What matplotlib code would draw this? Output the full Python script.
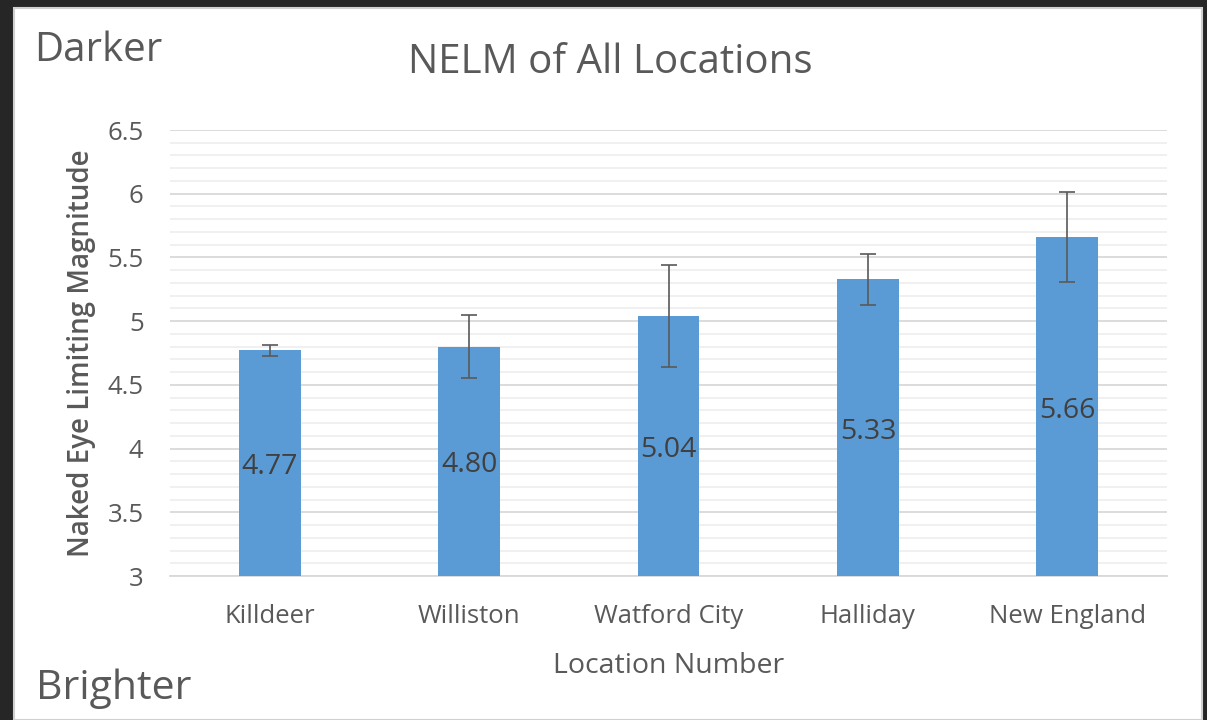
import numpy as np
import matplotlib
matplotlib.use("Agg")
import matplotlib.pyplot as plt
from matplotlib.patches import Rectangle
from matplotlib.ticker import MultipleLocator

locations = ["Killdeer", "Williston", "Watford City", "Halliday", "New England"]
nelm = [4.77, 4.80, 5.04, 5.33, 5.66]
nelm_err = [0.04, 0.245, 0.40, 0.20, 0.35]
value_labels = ["4.77", "4.80", "5.04", "5.33", "5.66"]

plt.rcParams['font.family'] = ['Open Sans', 'DejaVu Sans']

fig = plt.figure(figsize=(12.07, 7.2), dpi=100)
fig.patch.set_facecolor("#262626")

# white slide panel
panel = Rectangle((14 / 1207, 0), (1202 - 14) / 1207, (720 - 8) / 720,
                  transform=fig.transFigure, facecolor="white",
                  edgecolor="#d0d0d0", linewidth=1.5, zorder=-10)
fig.patches.append(panel)

ax = fig.add_axes([170 / 1207, 144 / 720, (1167 - 170) / 1207, (576 - 130) / 720])
ax.set_facecolor("none")
ax.set_zorder(2)

x = np.arange(len(locations))
ax.bar(x, [v - 3 for v in nelm], bottom=3, width=0.31, color="#5b9bd5", zorder=3)
ax.errorbar(x, nelm, yerr=nelm_err, fmt="none", ecolor="#595959",
            elinewidth=1.2, capsize=6, capthick=1.2, zorder=4)

for xi, v, lab in zip(x, nelm, value_labels):
    ax.annotate(lab, (xi, (3 + v) / 2), xytext=(0, -3), textcoords="offset points",
                ha="center", va="center", fontsize=20.5, color="#404040", zorder=5)

ax.set_xlim(-0.5, len(locations) - 0.5)
ax.set_ylim(3, 6.5)
ax.yaxis.set_major_locator(MultipleLocator(0.5))
ax.yaxis.set_minor_locator(MultipleLocator(0.1))
ax.set_yticks([3, 3.5, 4, 4.5, 5, 5.5, 6, 6.5])
ax.set_yticklabels(["3", "3.5", "4", "4.5", "5", "5.5", "6", "6.5"])
ax.grid(axis="y", which="major", color="#d9d9d9", linewidth=1.3, zorder=0)
ax.grid(axis="y", which="minor", color="#efefef", linewidth=1.3, zorder=0)
ax.set_axisbelow(True)
ax.set_xticks(x)
ax.set_xticklabels(locations)
ax.tick_params(axis="both", which="both", length=0, labelsize=18.5, colors="#595959")
ax.tick_params(axis="y", pad=19)
ax.tick_params(axis="x", pad=20.5)
for side in ["top", "right", "left"]:
    ax.spines[side].set_visible(False)
ax.spines["bottom"].set_color("#d9d9d9")
ax.spines["bottom"].set_linewidth(1.3)

ax.set_xlabel("Location Number", fontsize=20.5, color="#595959", labelpad=16)
ax.set_ylabel("Naked Eye Limiting Magnitude", fontsize=20, color="#595959",
              fontweight="semibold", labelpad=8)

fig.text(610 / 1207, 1 - 63 / 720, "NELM of All Locations", ha="center", va="center",
         fontsize=29, color="#595959")
fig.text(34 / 1207, 1 - 51 / 720, "Darker", ha="left", va="center",
         fontsize=29, color="#595959")
fig.text(36 / 1207, 1 - 689 / 720, "Brighter", ha="left", va="center",
         fontsize=29.5, color="#595959")

fig.savefig("out.png", dpi=100, facecolor=fig.get_facecolor())
